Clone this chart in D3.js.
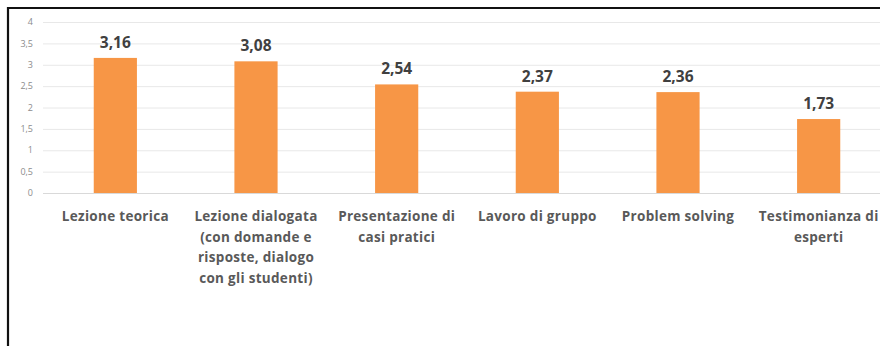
<!DOCTYPE html>
<html>
<head>
<meta charset="utf-8">
<script src="https://cdn.jsdelivr.net/npm/d3@7"></script>
<style>
  html, body { margin: 0; padding: 0; background: #fff; }
  svg { display: block; }
</style>
</head>
<body>
<svg id="chart" width="880" height="346"></svg>
<script>
// Teaching methods and their average scores
const categories = [
  ["Lezione teorica"],
  ["Lezione dialogata", "(con domande e", "risposte, dialogo", "con gli studenti)"],
  ["Presentazione di", "casi pratici"],
  ["Lavoro di gruppo"],
  ["Problem solving"],
  ["Testimonianza di", "esperti"]
];
const values = [3.16, 3.08, 2.54, 2.37, 2.36, 1.73];
const yTicks = [0, 0.5, 1, 1.5, 2, 2.5, 3, 3.5, 4];

const fmt = v => String(v).replace(".", ",");

const svg = d3.select("#chart");
const W = 880, H = 346;

const x = d3.scaleBand()
  .domain(d3.range(categories.length))
  .range([45, 889])
  .padding(0);
const y = d3.scaleLinear().domain([0, 4]).range([193, 22]);
const barW = x.bandwidth() * 0.307;

// gridlines
svg.append("g")
  .selectAll("line")
  .data(yTicks)
  .join("line")
  .attr("x1", 43).attr("x2", W)
  .attr("y1", d => y(d) + 0.5).attr("y2", d => y(d) + 0.5)
  .attr("stroke", d => d === 0 ? "#d9d9d9" : "#e8e8e8")
  .attr("stroke-width", 1);

// y tick labels
svg.append("g")
  .selectAll("text")
  .data(yTicks)
  .join("text")
  .attr("x", 33)
  .attr("y", d => y(d))
  .attr("dy", "0.35em")
  .attr("text-anchor", "end")
  .attr("font-family", "'Open Sans', sans-serif")
  .attr("font-size", 9)
  .attr("fill", "#8c8c8c")
  .text(d => fmt(d));

// bars
svg.append("g")
  .selectAll("rect")
  .data(values)
  .join("rect")
  .attr("x", (d, i) => x(i) + x.bandwidth() / 2 - barW / 2)
  .attr("width", barW)
  .attr("y", d => y(d))
  .attr("height", d => y(0) - y(d))
  .attr("fill", "#f79646");

// value labels
svg.append("g")
  .selectAll("text")
  .data(values)
  .join("text")
  .attr("x", (d, i) => x(i) + x.bandwidth() / 2)
  .attr("y", d => y(d) - 10)
  .attr("text-anchor", "middle")
  .attr("font-family", "'Open Sans', sans-serif")
  .attr("font-weight", "bold")
  .attr("font-size", 15.5)
  .attr("fill", "#404040")
  .text(d => fmt(d));

// category labels
const cat = svg.append("g")
  .selectAll("text")
  .data(categories)
  .join("text")
  .attr("x", (d, i) => x(i) + x.bandwidth() / 2)
  .attr("y", 221)
  .attr("text-anchor", "middle")
  .attr("font-family", "'Open Sans', sans-serif")
  .attr("font-weight", "bold")
  .attr("font-size", 13.5)
  .attr("letter-spacing", 0.3)
  .attr("fill", "#595959");
cat.selectAll("tspan")
  .data(d => d)
  .join("tspan")
  .attr("x", function () { return d3.select(this.parentNode).attr("x"); })
  .attr("dy", (d, i) => i === 0 ? 0 : 20.7)
  .text(d => d);

// frame
svg.append("path")
  .attr("d", `M8,${H} L8,8 L${W},8`)
  .attr("fill", "none")
  .attr("stroke", "#111")
  .attr("stroke-width", 2.2);
</script>
</body>
</html>
